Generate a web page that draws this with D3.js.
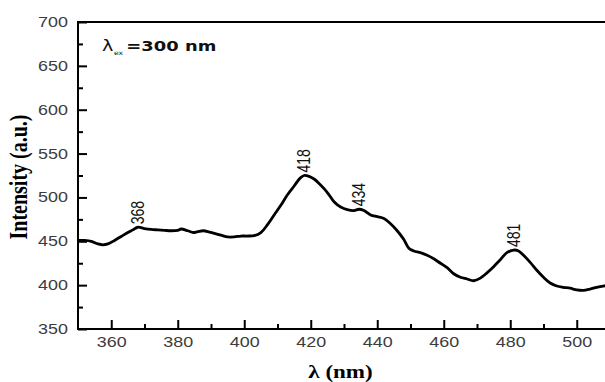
<!DOCTYPE html>
<html>
<head>
<meta charset="utf-8">
<script src="https://cdn.jsdelivr.net/npm/d3@7/dist/d3.min.js"></script>
<style>
  html, body { margin: 0; padding: 0; background: #fff; }
  svg { display: block; }
</style>
</head>
<body>
<svg id="chart" width="605" height="382"></svg>
<script>
// Photoluminescence emission spectrum, excitation at 300 nm
const wavelength = [350, 352, 354, 356, 357.5, 359, 361, 363, 365, 366.5, 368, 370, 372, 374, 376, 378, 380, 381, 383, 384.7, 386, 387.7, 389.5, 391, 393, 395, 397, 399, 401, 403, 405, 407, 409, 411, 413, 415, 416.8, 418, 419.5, 421, 422.5, 424, 425.5, 427, 429, 431, 433, 434.5, 436, 438, 440, 442, 444, 446, 448, 449.5, 451, 453, 455, 457, 459, 461, 463, 465, 467, 469, 471, 473, 475, 477, 479, 481, 482.5, 484, 486, 488, 490, 492, 494, 496, 498, 500, 502, 504, 506, 508, 510];
const intensity = [451, 451, 450, 447, 446, 447, 451, 455.5, 460, 463, 466, 464.5, 463.5, 463, 462.5, 462, 462.5, 464, 462, 460, 461, 462, 460.5, 459, 457, 455, 455, 456, 456, 456.5, 460, 469, 480, 491, 503, 513, 522, 525, 524, 521, 516, 510, 503, 495, 489, 486, 485, 486.5, 485, 480, 478, 476, 470, 462, 452, 442, 439, 437, 434, 430, 425, 420, 413, 409, 407, 405, 408, 414, 421, 429, 437, 440, 439, 434, 426, 417, 409, 402.5, 399, 397.5, 396.5, 394.5, 394, 395.5, 397.5, 399, 400];

// Peak annotations
const peakLabels = ["368", "418", "434", "481"];
const peakPositions = [368, 418, 434.5, 481];
const peakValues = [466, 525, 486.5, 440];

// Axis ticks
const xTicks = [360, 380, 400, 420, 440, 460, 480, 500];
const xMinorTicks = [370, 390, 410, 430, 450, 470, 490, 510];
const yTicks = [350, 400, 450, 500, 550, 600, 650, 700];
const yMinorTicks = [375, 425, 475, 525, 575, 625, 675];

const xTitle = "λ (nm)";
const yTitle = "Intensity (a.u.)";

const STRETCH = 1.28;
const plotLeft = 78, plotRight = 610, plotTop = 22, plotBottom = 329;

const svg = d3.select("#chart");
const x = d3.scaleLinear().domain([350, 510]).range([plotLeft, plotRight]);
const y = d3.scaleLinear().domain([350, 700]).range([plotBottom, plotTop]);

// Minor ticks
svg.append("g")
  .attr("transform", `translate(${plotLeft},0)`)
  .call(d3.axisLeft(y).tickValues(yMinorTicks).tickSizeInner(-5).tickSizeOuter(0).tickFormat(""))
  .call(g => g.select(".domain").remove())
  .call(g => g.selectAll("line").attr("stroke", "#000").attr("stroke-width", 2));

svg.append("g")
  .attr("transform", `translate(0,${plotBottom})`)
  .call(d3.axisBottom(x).tickValues(xMinorTicks).tickSizeInner(-5).tickSizeOuter(0).tickFormat(""))
  .call(g => g.select(".domain").remove())
  .call(g => g.selectAll("line").attr("stroke", "#000").attr("stroke-width", 2));

// Major ticks and labels
const yAxis = svg.append("g")
  .attr("transform", `translate(${plotLeft},0)`)
  .call(d3.axisLeft(y).tickValues(yTicks).tickSizeInner(-9).tickSizeOuter(0).tickPadding(10).tickFormat(d3.format("d")))
  .call(g => g.select(".domain").remove())
  .call(g => g.selectAll("line").attr("stroke", "#000").attr("stroke-width", 2));
yAxis.selectAll("text")
  .attr("x", null)
  .attr("transform", `translate(-10,0) scale(${STRETCH},1)`)
  .attr("font-family", "'Liberation Sans', Arial, sans-serif")
  .attr("font-size", 14)
  .attr("fill", "#3c3c3c");

const xAxis = svg.append("g")
  .attr("transform", `translate(0,${plotBottom})`)
  .call(d3.axisBottom(x).tickValues(xTicks).tickSizeInner(-9).tickSizeOuter(0).tickPadding(8).tickFormat(d3.format("d")))
  .call(g => g.select(".domain").remove())
  .call(g => g.selectAll("line").attr("stroke", "#000").attr("stroke-width", 2));
xAxis.selectAll("text")
  .attr("y", null)
  .attr("transform", `translate(0,8) scale(${STRETCH},1)`)
  .attr("font-family", "'Liberation Sans', Arial, sans-serif")
  .attr("font-size", 14)
  .attr("fill", "#3c3c3c");

// Frame
svg.append("path")
  .attr("d", `M${plotRight},${plotTop}H${plotLeft}V${plotBottom}H${plotRight}`)
  .attr("fill", "none")
  .attr("stroke", "#000")
  .attr("stroke-width", 2);

// Spectrum
const pts = wavelength.map((w, i) => [w, intensity[i]]);
svg.append("path")
  .datum(pts)
  .attr("fill", "none")
  .attr("stroke", "#000")
  .attr("stroke-width", 2.8)
  .attr("stroke-linejoin", "round")
  .attr("d", d3.line().x(d => x(d[0])).y(d => y(d[1])).curve(d3.curveCatmullRom));

// Peak labels
peakLabels.forEach((t, i) => {
  svg.append("text")
    .attr("transform", `translate(${x(peakPositions[i])},${y(peakValues[i]) - 3}) scale(${STRETCH},1) rotate(-90)`)
    .attr("dy", "0.35em")
    .attr("font-family", "'Liberation Sans', Arial, sans-serif")
    .attr("font-size", 14)
    .attr("fill", "#111")
    .text(t);
});

// Excitation wavelength note
const note = svg.append("text")
  .attr("transform", `translate(102,51) scale(${STRETCH},1)`)
  .attr("font-family", "'DejaVu Sans', sans-serif")
  .attr("fill", "#111");
note.append("tspan").attr("font-size", 15).text("λ");
note.append("tspan").attr("font-size", 6).attr("dy", 4).attr("dx", 0.5).text("ex");
note.append("tspan").attr("font-size", 14).attr("font-weight", "bold").attr("dy", -4).attr("dx", 2.5).text("=300 nm");

// Axis titles
svg.append("text")
  .attr("transform", `translate(${(plotLeft + 603) / 2},378) scale(${STRETCH},1)`)
  .attr("text-anchor", "middle")
  .attr("font-family", "'Liberation Serif', 'Times New Roman', serif")
  .attr("font-weight", "bold")
  .attr("font-size", 18)
  .attr("fill", "#000")
  .text(xTitle);

svg.append("text")
  .attr("transform", `translate(27,177) scale(${STRETCH},1) rotate(-90)`)
  .attr("text-anchor", "middle")
  .attr("font-family", "'Liberation Serif', 'Times New Roman', serif")
  .attr("font-weight", "bold")
  .attr("font-size", 20)
  .attr("fill", "#000")
  .text(yTitle);
</script>
</body>
</html>
